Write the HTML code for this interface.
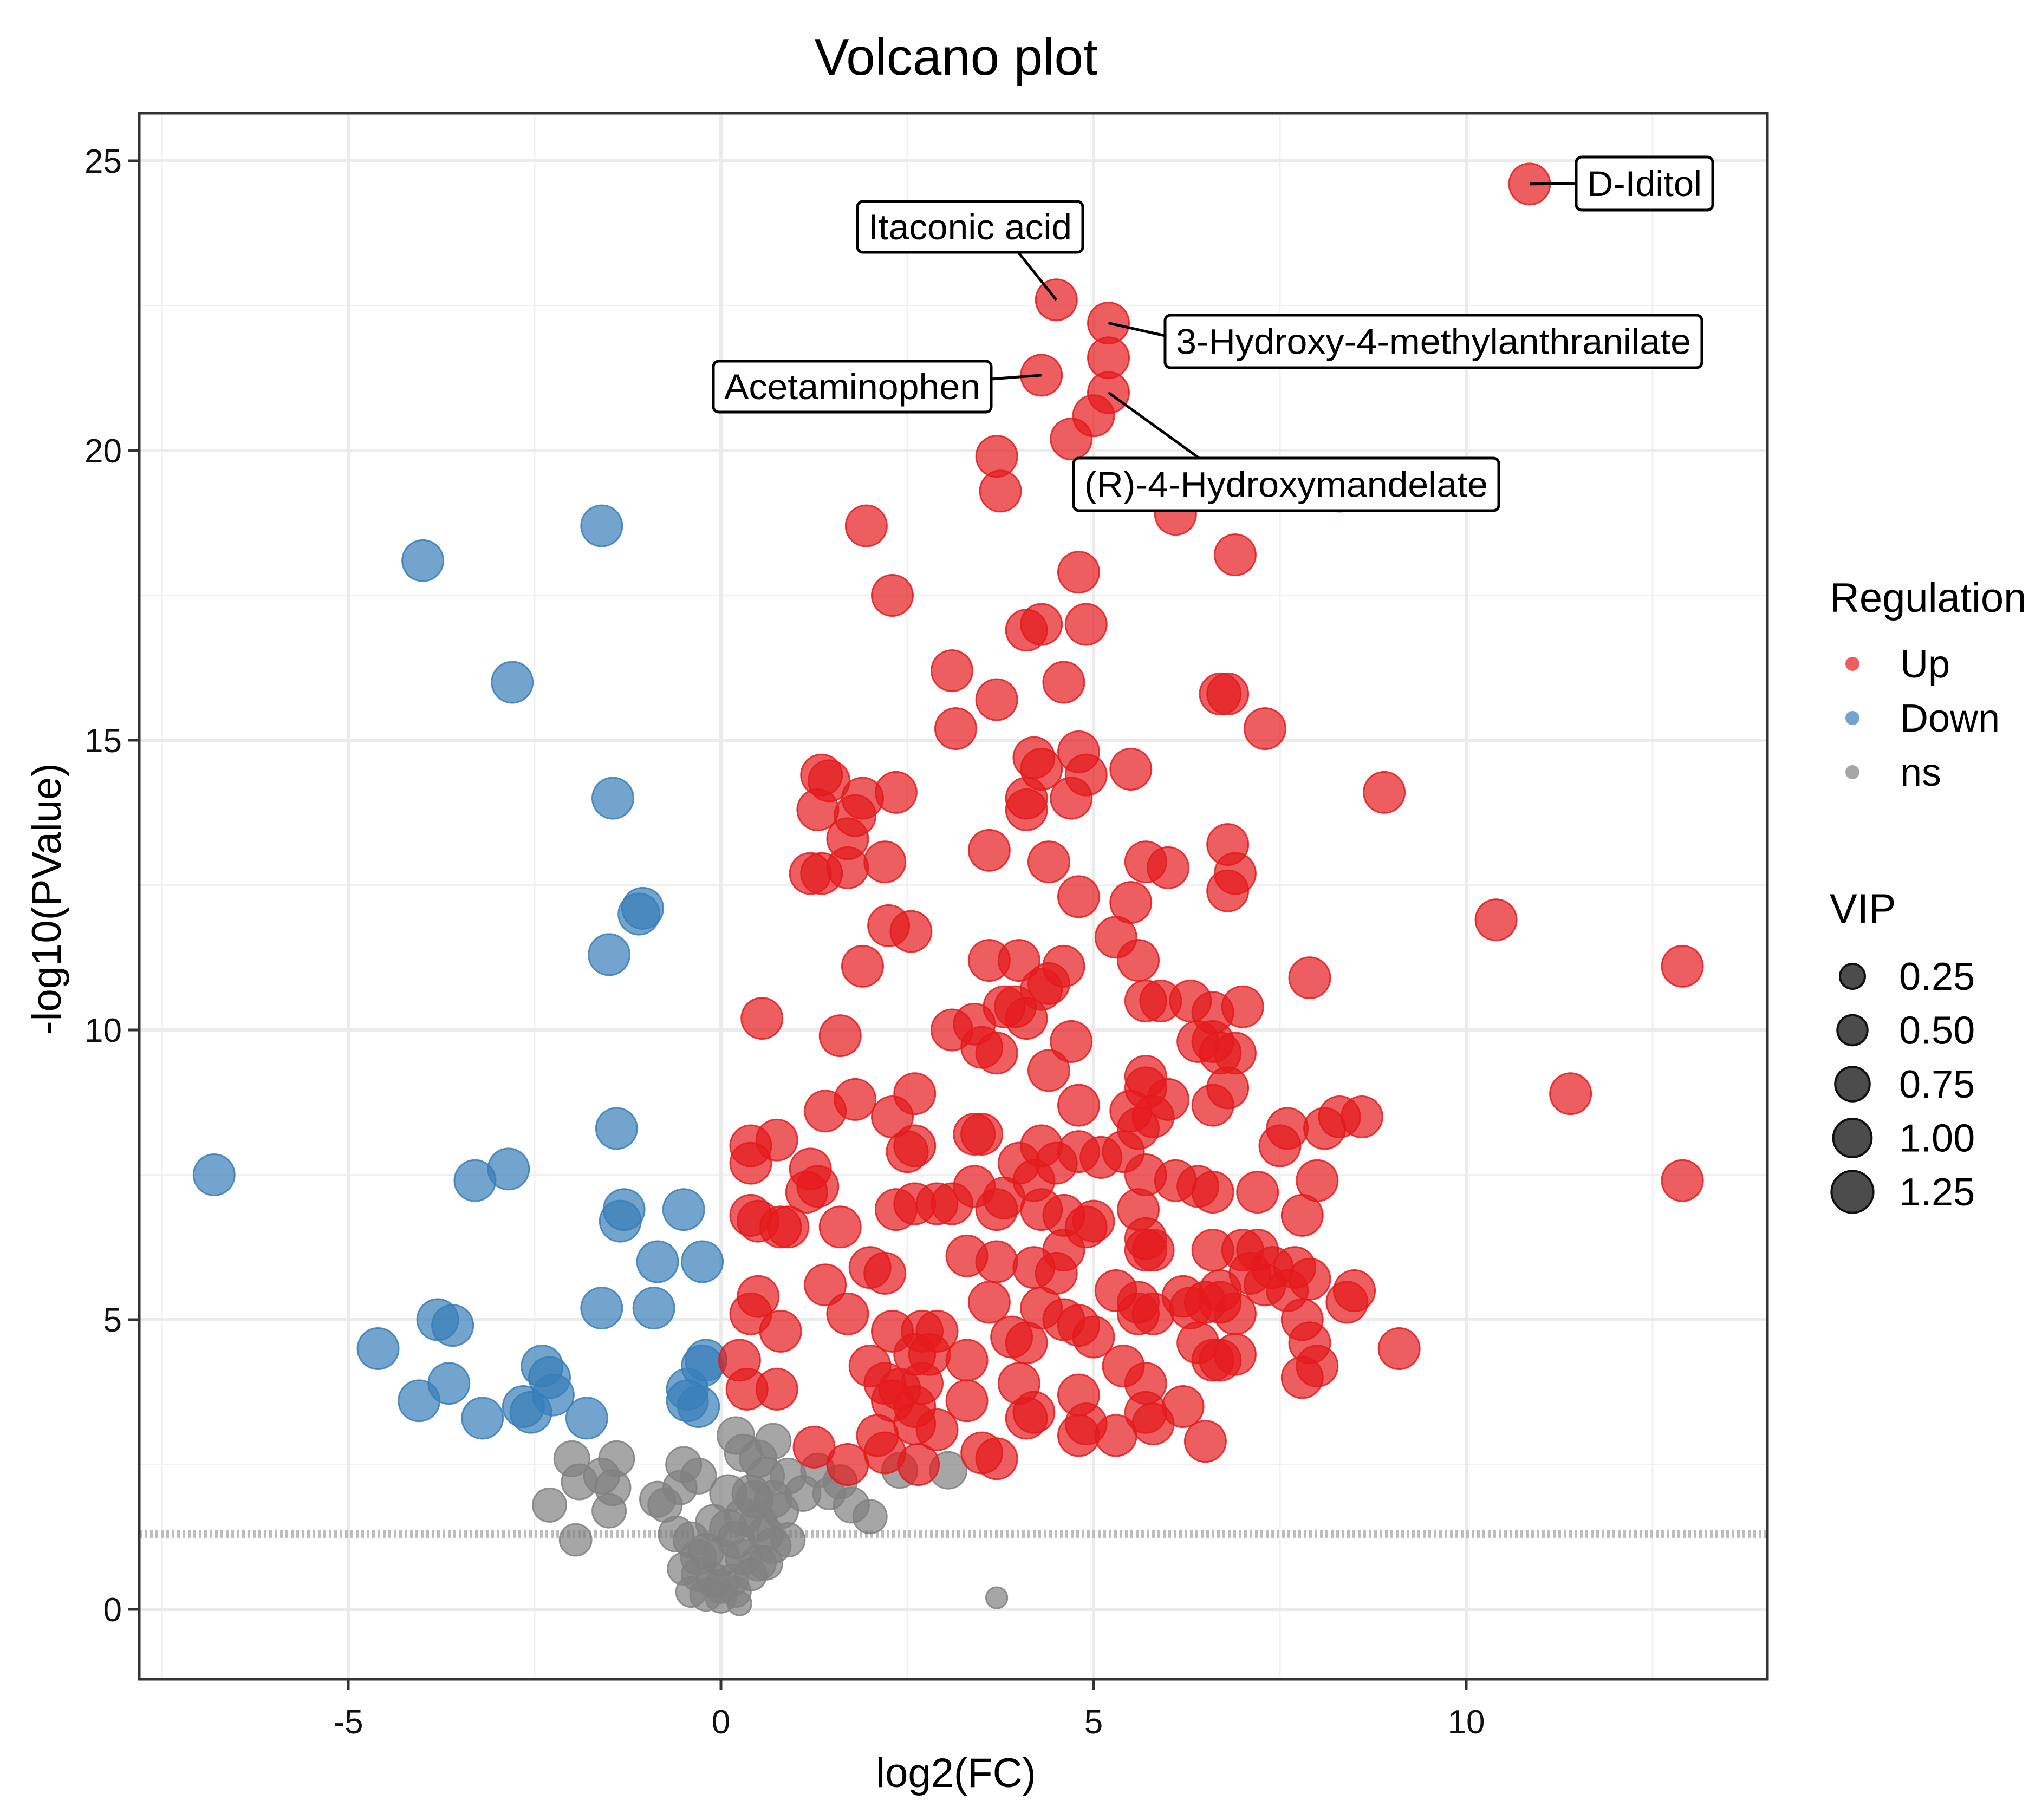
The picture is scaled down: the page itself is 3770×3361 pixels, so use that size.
<!DOCTYPE html>
<html><head><meta charset="utf-8"><style>
html,body{margin:0;padding:0;background:#fff}
svg{display:block}
text{font-family:"Liberation Sans",sans-serif}
</style></head><body>
<svg id="chart" width="3770" height="3361" viewBox="0 0 3770 3361" xmlns="http://www.w3.org/2000/svg">
<rect width="3770" height="3361" fill="#fff"/>
<text x="1765" y="138" font-size="96" text-anchor="middle">Volcano plot</text>
<g id="grid"></g>
<g id="points"></g>
<g id="labels"></g>
<rect x="257" y="209" width="3006" height="2892" fill="none" stroke="#333" stroke-width="5"/>
<g id="axes"></g>
<text x="1765" y="3300" font-size="76" text-anchor="middle">log2(FC)</text>
<text x="0" y="0" font-size="76" text-anchor="middle" transform="translate(112,1660) rotate(-90)">-log10(PValue)</text>
<g id="legend"></g>
</svg>
<script>
const xTicks = [-5, 0, 5, 10];
const xMinor = [-7.5, -2.5, 2.5, 7.5, 12.5];
const yTicks = [0, 5, 10, 15, 20, 25];
const yMinor = [2.5, 7.5, 12.5, 17.5, 22.5];
const threshold = 1.3;
const upPoints = [[10.85,24.6],[4.5,22.6],[5.2,22.2],[4.3,21.3],[5.2,21.6],[5.2,21.0],[5.0,20.6],[4.7,20.2],[3.7,19.9],[3.75,19.3],[8.3,19.3],[6.1,18.9],[1.95,18.7],[6.9,18.2],[4.8,17.9],[2.3,17.5],[4.1,16.9],[4.3,17.0],[4.9,17.0],[3.1,16.2],[4.6,16.0],[6.7,15.8],[6.8,15.8],[3.7,15.7],[3.15,15.2],[7.3,15.2],[4.2,14.7],[4.3,14.5],[4.8,14.8],[4.9,14.4],[5.5,14.5],[1.35,14.4],[1.45,14.3],[1.9,14.0],[2.35,14.1],[8.9,14.1],[4.1,14.0],[4.1,13.8],[4.7,14.0],[1.3,13.8],[1.8,13.7],[1.7,13.3],[6.8,13.2],[3.6,13.1],[1.2,12.7],[1.35,12.7],[1.7,12.8],[2.2,12.9],[4.4,12.9],[5.7,12.9],[6.0,12.8],[6.9,12.7],[6.8,12.4],[4.8,12.3],[5.5,12.2],[10.4,11.9],[2.25,11.8],[2.55,11.7],[5.3,11.6],[5.6,11.2],[3.6,11.2],[4.0,11.2],[4.6,11.1],[1.9,11.1],[12.9,11.1],[7.9,10.9],[4.4,10.8],[4.3,10.7],[5.7,10.5],[5.9,10.5],[6.3,10.5],[6.6,10.3],[7.0,10.4],[3.8,10.4],[4.1,10.2],[3.95,10.4],[0.55,10.2],[3.4,10.1],[3.1,10.0],[1.6,9.9],[6.6,9.8],[6.4,9.8],[6.7,9.6],[6.9,9.6],[4.7,9.8],[3.5,9.7],[3.7,9.6],[4.4,9.3],[5.7,9.2],[5.7,9.0],[6.8,9.0],[11.4,8.9],[2.6,8.9],[1.8,8.8],[6.0,8.8],[6.6,8.7],[4.8,8.7],[1.4,8.6],[2.3,8.5],[5.5,8.6],[5.8,8.5],[8.3,8.5],[8.6,8.5],[8.1,8.3],[7.6,8.3],[5.6,8.3],[3.4,8.2],[3.5,8.2],[0.75,8.1],[0.4,8.0],[2.5,7.9],[2.6,8.0],[4.3,8.0],[4.8,7.9],[5.4,7.9],[7.5,8.0],[0.4,7.7],[4.0,7.7],[4.5,7.7],[5.1,7.8],[12.9,7.4],[1.2,7.6],[1.3,7.3],[5.7,7.5],[6.1,7.4],[6.4,7.3],[8.0,7.4],[4.2,7.4],[3.4,7.3],[1.15,7.2],[6.6,7.2],[7.2,7.2],[3.8,7.1],[3.7,6.9],[2.6,7.0],[2.9,7.0],[3.1,7.0],[2.35,6.9],[0.4,6.8],[0.5,6.7],[4.3,6.9],[4.6,6.8],[5.0,6.7],[5.6,6.9],[7.8,6.8],[0.8,6.6],[0.9,6.6],[1.6,6.6],[4.9,6.6],[5.7,6.4],[5.8,6.2],[5.7,6.2],[6.6,6.2],[7.0,6.2],[7.2,6.2],[3.3,6.1],[3.7,6.0],[4.2,5.9],[4.5,5.8],[2.0,5.9],[2.2,5.8],[4.6,6.2],[7.4,5.9],[7.7,5.9],[7.9,5.7],[7.1,5.8],[7.3,5.6],[6.7,5.5],[8.5,5.5],[0.5,5.4],[1.4,5.6],[5.3,5.5],[5.6,5.3],[6.2,5.4],[6.5,5.3],[6.7,5.3],[7.6,5.5],[0.4,5.1],[1.7,5.1],[3.6,5.3],[4.3,5.2],[4.6,5.0],[5.6,5.1],[5.8,5.1],[6.3,5.2],[6.9,5.1],[8.4,5.3],[0.8,4.8],[2.3,4.8],[2.7,4.8],[2.9,4.8],[3.9,4.7],[4.1,4.6],[4.8,4.9],[5.0,4.7],[6.4,4.6],[7.9,4.6],[7.8,5.0],[0.25,4.3],[2.0,4.2],[2.6,4.4],[2.8,4.4],[3.3,4.3],[5.4,4.2],[6.6,4.3],[6.7,4.3],[6.9,4.4],[8.0,4.2],[9.1,4.5],[0.75,3.8],[0.35,3.8],[2.2,3.9],[2.4,3.8],[2.7,3.9],[4.0,3.9],[4.8,3.7],[5.7,3.9],[7.8,4.0],[2.3,3.6],[2.6,3.5],[3.3,3.6],[4.2,3.4],[6.2,3.5],[5.7,3.4],[4.1,3.3],[4.9,3.2],[5.8,3.2],[2.6,3.2],[2.9,3.1],[2.1,3.0],[5.3,3.0],[6.5,2.9],[4.8,3.0],[3.5,2.7],[3.7,2.6],[1.25,2.8],[1.7,2.5],[2.2,2.7],[2.65,2.5]];
const downPoints = [[-1.6,18.7],[-4.0,18.1],[-2.8,16.0],[-1.45,14.0],[-1.05,12.1],[-1.1,12.0],[-1.5,11.3],[-1.4,8.3],[-2.85,7.6],[-3.3,7.4],[-6.8,7.5],[-1.3,6.9],[-1.35,6.7],[-0.5,6.9],[-0.85,6.0],[-0.25,6.0],[-1.6,5.2],[-0.9,5.2],[-3.8,5.0],[-3.6,4.9],[-4.6,4.5],[-2.4,4.2],[-2.3,4.0],[-0.2,4.3],[-0.25,4.2],[-3.65,3.9],[-4.05,3.6],[-2.25,3.7],[-2.65,3.5],[-2.55,3.4],[-3.2,3.3],[-1.8,3.3],[-0.45,3.8],[-0.45,3.6],[-0.3,3.5]];
const nsPoints = [[-2.0,2.6,0.8],[-1.4,2.6,0.8],[-1.9,2.2,0.8],[-1.6,2.3,0.8],[-2.3,1.8,0.7],[-1.45,2.1,0.8],[-1.5,1.7,0.7],[-1.95,1.2,0.6],[-0.85,1.9,0.8],[-0.75,1.8,0.7],[-0.5,2.5,0.8],[-0.3,2.3,0.8],[-0.55,2.1,0.7],[0.2,3.0,0.9],[0.3,2.7,0.9],[0.7,2.9,0.8],[0.5,2.6,0.9],[0.6,2.3,0.9],[0.9,2.3,0.8],[1.3,2.4,0.7],[1.6,2.2,0.7],[1.45,2.0,0.6],[1.1,2.0,0.8],[1.75,1.8,0.8],[2.0,1.6,0.7],[3.05,2.4,0.9],[2.4,2.4,0.8],[0.1,2.0,0.9],[0.4,2.0,0.9],[0.7,1.9,0.9],[0.8,1.7,0.8],[-0.1,1.5,0.8],[0.1,1.4,0.9],[0.3,1.6,0.9],[0.5,1.5,0.9],[0.6,1.3,0.8],[0.7,1.1,0.8],[0.9,1.2,0.7],[-0.6,1.3,0.8],[-0.4,1.2,0.8],[-0.2,1.0,0.8],[0.0,0.9,0.9],[0.3,0.9,0.8],[0.5,0.8,0.8],[0.6,0.8,0.7],[-0.5,0.7,0.6],[-0.3,0.6,0.7],[-0.1,0.5,0.7],[0.0,0.4,0.7],[-0.4,0.3,0.5],[-0.2,0.25,0.6],[0.0,0.2,0.5],[0.2,0.3,0.5],[0.4,0.6,0.6],[0.25,0.1,0.2],[3.7,0.2,0.1],[-0.3,0.9,0.8],[0.2,1.2,0.9],[0.45,1.9,0.9],[0.15,0.5,0.6]];
const upVip = 1.2;
const downVip = 1.2;
const legendCats = ["Up", "Down", "ns"];
const vipLegend = [0.25, 0.50, 0.75, 1.00, 1.25];
const vipLabels = ["0.25", "0.50", "0.75", "1.00", "1.25"];
const labelNames = ["D-Iditol", "Itaconic acid", "3-Hydroxy-4-methylanthranilate", "Acetaminophen", "(R)-4-Hydroxymandelate"];
const labelTargets = [[10.85,24.6],[4.5,22.6],[5.2,22.2],[4.3,21.3],[5.2,21.0]];

const NS = "http://www.w3.org/2000/svg";
const L = 257, R = 3263, T = 209, B = 3101;
const X = v => 1331 + 137.6 * v;
const Y = v => 2972 - 107 * v;
const rad = vip => Math.sqrt(289 + 961 * vip);
function mk(tag, attrs, parent) {
  const e = document.createElementNS(NS, tag);
  for (const k in attrs) e.setAttribute(k, attrs[k]);
  parent.appendChild(e);
  return e;
}
const grid = document.getElementById('grid');
mk('rect', {x:L, y:T, width:R-L, height:B-T, fill:'#fff'}, grid);
xMinor.forEach(v => { const e = mk('line', {x1:X(v), x2:X(v), y1:T, y2:B, stroke:'#F0F0F0', 'stroke-width':3}, grid);
  
   });
yMinor.forEach(v => { const e = mk('line', {x1:L, x2:R, y1:Y(v), y2:Y(v), stroke:'#F0F0F0', 'stroke-width':3}, grid);
  
   });
xTicks.forEach(v => { const e = mk('line', {x1:X(v), x2:X(v), y1:T, y2:B, stroke:'#EBEBEB', 'stroke-width':6}, grid);
  
   });
yTicks.forEach(v => { const e = mk('line', {x1:L, x2:R, y1:Y(v), y2:Y(v), stroke:'#EBEBEB', 'stroke-width':6}, grid);
  
   });
const th = mk('line', {x1:L, x2:R, y1:Y(threshold), y2:Y(threshold), stroke:'#BDBDBD', 'stroke-width':14, 'stroke-dasharray':'5 5'}, grid);



const pts = document.getElementById('points');
nsPoints.forEach(p => { const c = mk('circle', {cx:X(p[0]), cy:Y(p[1]), r:rad(p[2]), fill:'rgba(128,128,128,0.7)', stroke:'rgba(128,128,128,0.85)', 'stroke-width':3}, pts);
  
   });
downPoints.forEach(p => { const c = mk('circle', {cx:X(p[0]), cy:Y(p[1]), r:rad(downVip), fill:'rgba(55,126,184,0.7)', stroke:'rgba(55,126,184,0.85)', 'stroke-width':3}, pts);
  
   });
upPoints.forEach(p => { const c = mk('circle', {cx:X(p[0]), cy:Y(p[1]), r:rad(upVip), fill:'rgba(228,26,28,0.7)', stroke:'rgba(228,26,28,0.85)', 'stroke-width':3}, pts);
  
   });

// labels (box geometry in pixels, connectors to data points)
const boxes = [[2910,290,252,98],[1583,372,416,94],[2151,582,991,97],[1317,667,513,94],[1982,846,785,97]];
const anchors = [[2910,339],[1880,466],[2151,620],[1830,700],[2214,846]];
const lab = document.getElementById('labels');
labelNames.forEach((n, i) => {
  const b = boxes[i], a = anchors[i], t = labelTargets[i];
  const ln = mk('line', {x1:a[0], y1:a[1], x2:X(t[0]), y2:Y(t[1]), stroke:'#000', 'stroke-width':5}, lab);
  
  
  const r = mk('rect', {x:b[0], y:b[1], width:b[2], height:b[3], rx:10, fill:'#fff', stroke:'#000', 'stroke-width':5}, lab);
  
  
  const tx = mk('text', {x:b[0]+b[2]/2, y:b[1]+b[3]/2+23, 'font-size':66, 'text-anchor':'middle', textLength:b[2]-40, lengthAdjust:'spacingAndGlyphs'}, lab);
  tx.textContent = n;
  
  
});

const ax = document.getElementById('axes');
xTicks.forEach(v => {
  const l = mk('line', {x1:X(v), x2:X(v), y1:B, y2:B+20, stroke:'#333', 'stroke-width':5}, ax);
  
  
  const t = mk('text', {x:X(v), y:B+100, 'font-size':62, 'text-anchor':'middle', fill:'#111'}, ax);
  t.textContent = String(v);
  
  
});
yTicks.forEach(v => {
  const l = mk('line', {x1:L-20, x2:L, y1:Y(v), y2:Y(v), stroke:'#333', 'stroke-width':5}, ax);
  
  
  const t = mk('text', {x:L-32, y:Y(v)+22, 'font-size':62, 'text-anchor':'end', fill:'#111'}, ax);
  t.textContent = String(v);
  
  
});

const lg = document.getElementById('legend');
const lt = mk('text', {x:3378, y:1130, 'font-size':76}, lg);
lt.textContent = 'Regulation';


const cols = ['rgba(228,26,28,0.7)', 'rgba(55,126,184,0.7)', 'rgba(128,128,128,0.7)'];
legendCats.forEach((c, i) => {
  const y = 1226 + i * 100;
  const d = mk('circle', {cx:3420, cy:y, r:13, fill:cols[i]}, lg);
  
  
  const t = mk('text', {x:3508, y:y+25, 'font-size':72}, lg);
  t.textContent = c;
  
  
});
const vt = mk('text', {x:3378, y:1704, 'font-size':76}, lg);
vt.textContent = 'VIP';


vipLegend.forEach((v, i) => {
  const y = 1803 + i * 99.5;
  const d = mk('circle', {cx:3420, cy:y, r:rad(v), fill:'rgba(0,0,0,0.7)', stroke:'#111', 'stroke-width':4}, lg);
  
  
  const t = mk('text', {x:3506, y:y+25, 'font-size':72}, lg);
  t.textContent = vipLabels[i];
  
  
});
</script>
</body></html>
